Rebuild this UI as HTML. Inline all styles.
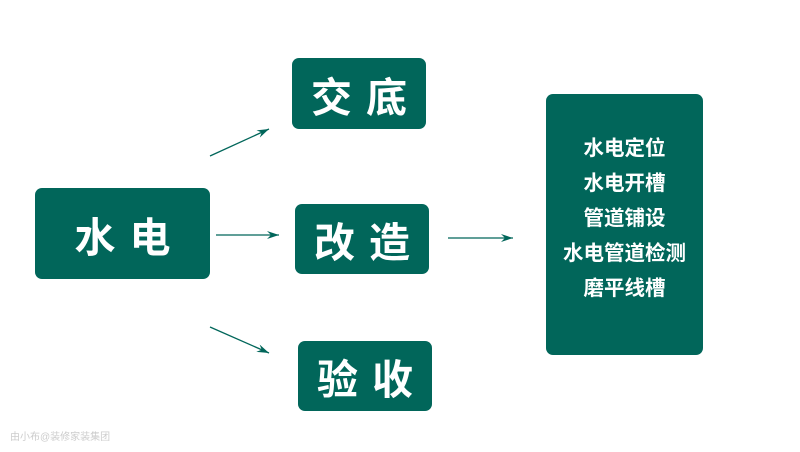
<!DOCTYPE html>
<html><head><meta charset="utf-8"><style>
body{margin:0;width:800px;height:452px;background:#fff;position:relative;overflow:hidden;font-family:"Liberation Sans","Noto Sans CJK SC",sans-serif;}
.b{position:absolute;background:#01665a;border-radius:7px;color:#fff;font-weight:bold;display:flex;align-items:center;justify-content:center;}
.big{font-size:41px;letter-spacing:14px;text-indent:14px;}
.list{font-size:20.5px;line-height:35px;flex-direction:column;}
.wm{position:absolute;left:10px;top:428px;font-size:10px;color:#ccc;}
</style></head><body>
<div class="b big" style="left:35px;top:188px;width:175px;height:91px;">水电</div>
<div class="b big" style="left:292px;top:58px;width:134px;height:71px;">交底</div>
<div class="b big" style="left:295px;top:204px;width:134px;height:70px;">改造</div>
<div class="b big" style="left:298px;top:341px;width:134px;height:70px;">验收</div>
<div class="b list" style="left:546px;top:94px;width:157px;height:261px;padding-bottom:12px;box-sizing:border-box;">
<div>水电定位</div><div>水电开槽</div><div>管道铺设</div><div>水电管道检测</div><div>磨平线槽</div></div>
<svg width="800" height="452" style="position:absolute;left:0;top:0">
<defs><marker id="a" markerWidth="12" markerHeight="8" refX="12" refY="4" orient="auto" markerUnits="userSpaceOnUse"><path d="M0,0 L12,4 L0,8 L4,4z" fill="#01665a"/></marker></defs>
<g stroke="#01665a" stroke-width="1.3" marker-end="url(#a)">
<line x1="210" y1="156" x2="269" y2="129"/>
<line x1="216" y1="235" x2="279" y2="235"/>
<line x1="210" y1="327" x2="269" y2="353"/>
<line x1="448" y1="238" x2="513" y2="238"/>
</g></svg>
<div class="wm">由小布@装修家装集团</div>
</body></html>
